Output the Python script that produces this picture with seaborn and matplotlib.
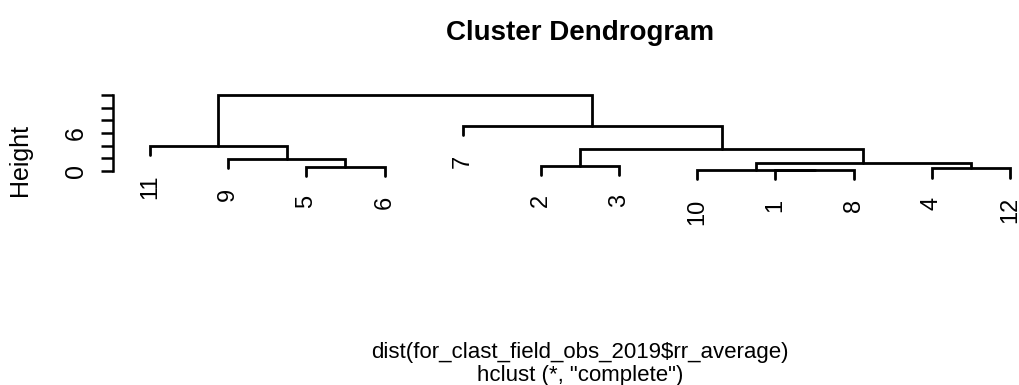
import pandas as pd
import seaborn as sns
import matplotlib
matplotlib.use("Agg")
import matplotlib.pyplot as plt

# leaf order along the x axis (as drawn by R's plot.hclust)
leaf_order = [11, 9, 5, 6, 7, 2, 3, 10, 1, 8, 4, 12]

# merge table, R style: negative = single observation, positive = earlier merge
merge_left = [-1, -10, -4, -5, -2, 2, -9, 5, -11, -7, 9]
merge_right = [-8, 1, -12, -6, -3, 3, 4, 6, 7, 8, 10]
merge_height = [0.14, 0.17, 0.42, 0.68, 0.84, 1.21, 1.9, 3.47, 3.95, 7.16, 12.0]
hang = 1.45

y_ticks = [0, 2, 4, 6, 8, 10, 12]
y_tick_labels = ["0", "", "", "6", "", "", ""]

title = "Cluster Dendrogram"
sub1 = "dist(for_clast_field_obs_2019$rr_average)"
sub2 = 'hclust (*, "complete")'

pos = {leaf: i + 1 for i, leaf in enumerate(leaf_order)}
node_x = {}
rows = []
leaf_ends = {}
for k, (a, b, h) in enumerate(zip(merge_left, merge_right, merge_height), start=1):
    pts = []
    for c in (a, b):
        if c < 0:
            cx, cy = pos[-c], h - hang
            leaf_ends[-c] = (cx, cy)
        else:
            cx, cy = node_x[c], merge_height[c - 1]
        pts.append((cx, cy))
    (xl, yl), (xr, yr) = pts
    for x, y in [(xl, yl), (xl, h), (xr, h), (xr, yr)]:
        rows.append({"seg": k, "x": x, "y": y})
    node_x[k] = (xl + xr) / 2

segs = pd.DataFrame(rows)

sns.set_style("white")
plt.rcParams["font.family"] = ["Liberation Sans", "DejaVu Sans"]
plt.rcParams["text.color"] = "black"
plt.rcParams["ytick.color"] = "black"

W, H = 1019, 385
fig = plt.figure(figsize=(W / 100, H / 100), dpi=100)
ax_left, ax_right = 113, 1019
ax_top, ax_bot = 91.9, 183.7
ax = fig.add_axes([ax_left / W, (H - ax_bot) / H, (ax_right - ax_left) / W, (ax_bot - ax_top) / H])

sns.lineplot(data=segs, x="x", y="y", units="seg", estimator=None, sort=False,
             color="black", linewidth=2.0, ax=ax, legend=False)
for line in ax.lines:
    line.set_clip_on(False)
    line.set_solid_joinstyle("miter")

ax.set_xlim(1 - (150 - ax_left) / 78.18, 1 + (ax_right - 150) / 78.18)
ax.set_ylim(-2, 12.5)

for leaf, (x, y) in leaf_ends.items():
    ax.annotate(str(leaf), xy=(x, y), xytext=(0, -14), textcoords="offset points",
                rotation=90, ha="center", va="top", fontsize=17, color="black",
                annotation_clip=False)

ax.set_xticks([])
ax.set_xlabel("")
ax.set_ylabel("")
ax.set_yticks(y_ticks)
ax.set_yticklabels(y_tick_labels, rotation=90, va="center", fontsize=18, color="black")
ax.tick_params(axis="y", length=8.6, width=1.8, pad=9.5, left=True, color="black")
for s in ["top", "right", "bottom"]:
    ax.spines[s].set_visible(False)
ax.spines["left"].set_bounds(0, 12)
ax.spines["left"].set_linewidth(1.8)
ax.spines["left"].set_color("black")

fig.text(20 / W, (H - 160) / H, "Height", rotation=90, ha="center", va="center", fontsize=18)
fig.text(580 / W, (H - 40) / H, title, ha="center", va="baseline", fontsize=20, fontweight="bold")
fig.text(580 / W, (H - 358) / H, sub1, ha="center", va="baseline", fontsize=16)
fig.text(580 / W, (H - 381) / H, sub2, ha="center", va="baseline", fontsize=16)

fig.savefig("out.png", dpi=100)
